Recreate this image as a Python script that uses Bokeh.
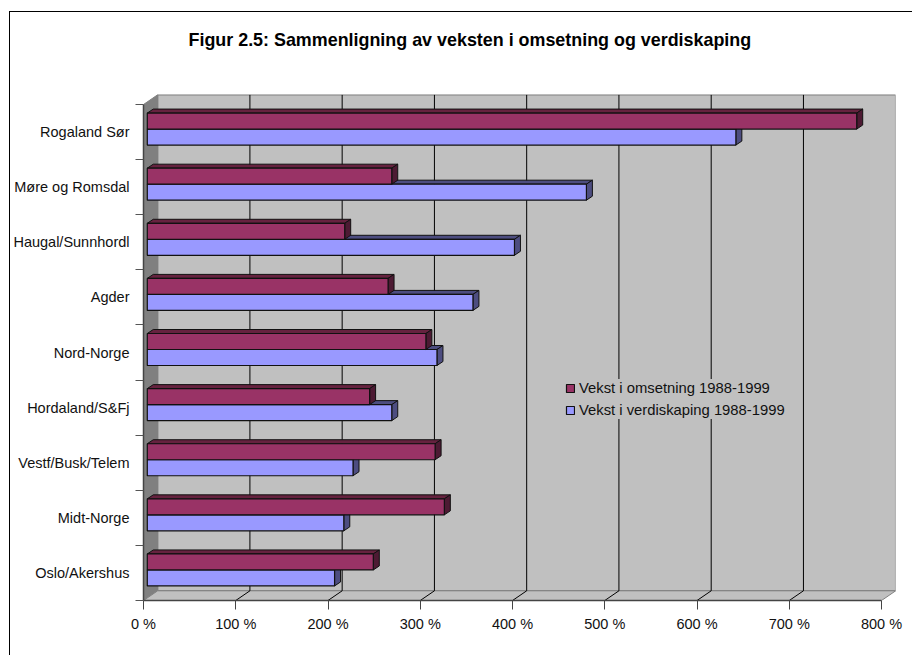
from bokeh.plotting import figure
from bokeh.models import LinearAxis, FixedTicker, Range1d, Legend, LegendItem, Title
from bokeh.embed import file_html
from bokeh.resources import INLINE

# top-to-bottom order in the chart
categories = ["Rogaland Sør", "Møre og Romsdal", "Haugal/Sunnhordl", "Agder", "Nord-Norge",
              "Hordaland/S&Fj", "Vestf/Busk/Telem", "Midt-Norge", "Oslo/Akershus"]
omsetning = [769, 265, 214, 261, 302, 241, 312, 322, 245]
verdiskaping = [638, 476, 398, 353, 314, 265, 223, 213, 203]
x_ticks = [0, 100, 200, 300, 400, 500, 600, 700, 800]
title_text = "Figur 2.5: Sammenligning av veksten i omsetning og verdiskaping"
series_names = ["Vekst i omsetning 1988-1999", "Vekst i verdiskaping 1988-1999"]

OX, OY = 10, 12      # canvas origin on the page (chart-area frame sits just outside it)
W, H = 903, 644
L, R, T, B = 131, 885, 94 - OY, 600 - OY   # frame in canvas pixels
PX_X = 0.925        # px per percent
PX_Y = 55.11        # px per category
DX = 14.2 / PX_X    # wall depth
DY = 9.7 / PX_Y
BX = 6.0 / PX_X     # bar depth
BY = 4.0 / PX_Y
GAP_X = 3.8 / PX_X  # bar start inside the depth
BAR_H = 16.0 / PX_Y
SHIFT = 3.0 / PX_Y
n = len(categories)

p = figure(width=W, height=H, output_backend="svg", toolbar_location=None,
           x_range=Range1d(0, (R - L) / PX_X), y_range=Range1d(0, (B - T) / PX_Y),
           x_axis_type=None, y_axis_type=None, background_fill_color="white",
           border_fill_color="white", min_border_left=L, min_border_right=W - R,
           min_border_top=T, min_border_bottom=H - B, outline_line_color=None,
           margin=(OY - 1, 0, 0, OX - 1),
           styles={"border-left": "1px solid black", "border-top": "1px solid black"})
p.grid.visible = False

# walls and floor
xmax = x_ticks[-1]
p.patch([0, DX, DX, 0], [0, DY, n + DY, n], fill_color="#808080", line_color="#808080")
p.patch([DX, xmax + DX, xmax + DX, DX], [DY, DY, n + DY, n + DY], fill_color="#c0c0c0", line_color="#808080", line_width=1.5)
p.patch([0, xmax, xmax + DX, DX], [0, 0, DY, DY], fill_color="#c0c0c0", line_color="#808080")
for t in x_ticks[1:-1]:
    p.line([t, t + DX, t + DX], [0, DY, n + DY], line_color="black", line_width=1)

# bars
rows = [n - i - 0.5 + SHIFT for i in range(n)]
def draw(values, y0, y1, face, top, side):
    x0 = [GAP_X] * n
    x1 = [GAP_X + v for v in values]
    p.patches([[a, a + BX, b + BX, b] for a, b in zip(x0, x1)],
              [[t, t + BY, t + BY, t] for t in y1], fill_color=top, line_color="#111111")
    p.patches([[b, b + BX, b + BX, b] for b in x1],
              [[u, u + BY, t + BY, t] for u, t in zip(y0, y1)], fill_color=side, line_color="#111111")
    return p.quad(left=x0, right=x1, bottom=y0, top=y1, fill_color=face, line_color="#111111", line_width=1.2)

r2 = draw(verdiskaping, [c - BAR_H for c in rows], rows, "#9999ff", "#4d4d80", "#4d4d80")
r1 = draw(omsetning, rows, [c + BAR_H for c in rows], "#993366", "#66223f", "#4d1a33")

# axes
FS = "14.5px"
xa = LinearAxis(ticker=FixedTicker(ticks=x_ticks), bounds=(0, xmax),
                major_label_overrides={t: f"{t} %" for t in x_ticks})
xa.axis_line_color = "#444444"
xa.axis_line_width = 1.5
xa.major_tick_in = 0
xa.major_tick_out = 9
xa.major_tick_line_color = "#444444"
xa.minor_tick_line_color = None
xa.major_label_text_font = "Liberation Sans"
xa.major_label_text_font_size = FS
xa.major_label_text_color = "#111111"
xa.major_label_standoff = 6
p.add_layout(xa, "below")

centers = [n - i - 0.5 for i in range(n)]
ya = LinearAxis(ticker=FixedTicker(ticks=centers, minor_ticks=list(range(n + 1))), bounds=(0, n),
                major_label_overrides={c: lab for c, lab in zip(centers, categories)})
ya.axis_line_color = "#444444"
ya.axis_line_width = 1.5
ya.major_tick_in = 0
ya.major_tick_out = 0
ya.major_tick_line_color = None
ya.minor_tick_in = 0
ya.minor_tick_out = 8
ya.minor_tick_line_color = "#555555"
ya.major_label_text_font = "Liberation Sans"
ya.major_label_text_font_size = FS
ya.major_label_text_color = "#111111"
ya.major_label_standoff = 6
p.add_layout(ya, "left")

legend = Legend(items=[LegendItem(label=series_names[0], renderers=[r1]),
                       LegendItem(label=series_names[1], renderers=[r2])],
                location=(422, 181), background_fill_color="#c0c0c0", background_fill_alpha=1,
                border_line_color=None, label_text_font="Liberation Sans", label_text_font_size="14.8px",
                label_text_color="#111111", glyph_width=10, glyph_height=10, label_standoff=4,
                spacing=4, padding=2, margin=0, label_height=18)
p.add_layout(legend, "center")

# blank panel that lifts the title clear of the plot's top edge, then the title itself
p.add_layout(Title(text=" ", standoff=42, text_font_size="1px"), "above")
p.title = Title(text=title_text, align="left", offset=45, text_font="Liberation Sans",
                text_font_size="17.9px", text_font_style="bold", text_color="black", standoff=0)

open("out.html", "w").write(file_html(p, INLINE))
